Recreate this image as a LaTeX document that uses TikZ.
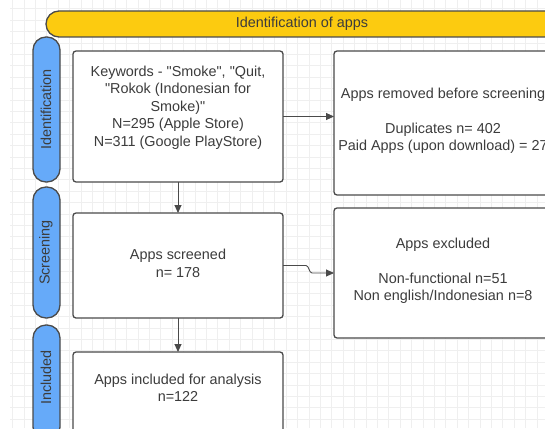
\documentclass[tikz,border=0pt]{standalone}
\usepackage{fontspec}
\setmainfont{Liberation Sans}
\usetikzlibrary{arrows.meta}
\definecolor{gridc}{HTML}{EFEFEF}
\definecolor{edgec}{HTML}{4A4A4A}
\definecolor{txtc}{HTML}{3C3C3C}
\definecolor{yellowc}{HTML}{FCCB10}
\definecolor{bluec}{HTML}{66AAF9}
\newcommand{\dq}{\textquotedbl}
\tikzset{
  box/.style={draw=edgec, line width=1.3pt, fill=white, rounded corners=3pt, inner sep=0pt, outer sep=0pt},
  pill/.style={draw=edgec, line width=1.3pt, fill=bluec, rounded corners=13pt, inner sep=0pt, outer sep=0pt, minimum width=27pt},
  hdr/.style={draw=edgec, line width=1.3pt, fill=yellowc, rounded corners=13pt, inner sep=0pt, outer sep=0pt},
  txt/.style={text=txtc, font=\fontsize{14.4pt}{17.4pt}\selectfont, align=center, inner sep=0pt},
  conn/.style={draw=edgec, line width=0.9pt, -{Triangle[length=8pt,width=7pt]}},
}
\begin{document}
\begin{tikzpicture}[x=1pt,y=-1pt]
\useasboundingbox (0,0) rectangle (545,428);
\clip (0,0) rectangle (545,428);
\fill[white] (0,0) rectangle (545,428);
% grid
\foreach \i in {0,...,47} {\draw[gridc, line width=0.6pt] (12.4+\i*11.4,0) -- (12.4+\i*11.4,428);}
\foreach \j in {0,...,37} {\draw[gridc, line width=0.6pt] (10,8.7+\j*11.4) -- (545,8.7+\j*11.4);}
% header
\node[hdr, minimum width=514pt, minimum height=26pt] (hd) at (303,24) {};
\node[txt] (hdt) at (302,23.5) {Identification of apps};
% pills
\node[pill, minimum height=145pt] (p1) at (46.5,109.5) {};
\node[pill, minimum height=131pt] (p2) at (46.5,252.5) {};
\node[pill, minimum height=115pt] (p3) at (46.5,382.5) {};
\node[txt, rotate=90] (p1t) at (46,109.5) {Identification};
\node[txt, rotate=90] (p2t) at (46,252.5) {Screening};
\node[txt, rotate=90] (p3t) at (46,377.5) {Included};
% boxes
\node[box, minimum width=210pt, minimum height=131pt] (b1) at (178,116.5) {};
\node[box, minimum width=218pt, minimum height=144pt] (b2) at (443,123) {};
\node[box, minimum width=210pt, minimum height=105pt] (scr) at (178,265.5) {};
\node[box, minimum width=218pt, minimum height=130pt] (exc) at (443,273) {};
\node[box, minimum width=210pt, minimum height=108pt] (inc) at (178,406) {};
% texts
\node[txt] (b1t) at (178,107.5) {Keywords - \dq Smoke\dq, \dq Quit,\\\dq Rokok (Indonesian for\\Smoke)\dq\\N=295 (Apple Store)\\N=311 (Google PlayStore)};
\node[txt] (b2t) at (443,121) {Apps removed before screening\\[17.4pt]Duplicates n= 402\\Paid Apps (upon download) = 27};
\node[txt] (scrt) at (178,263.5) {Apps screened\\n= 178};
\node[txt] (exct) at (443,271) {Apps excluded\\[17.4pt]Non-functional n=51\\Non english/Indonesian n=8};
\node[txt] (inct) at (178,388) {Apps included for analysis\\n=122};
% connectors
\draw[conn] (b1.east) -- (b1.east -| b2.west);
\draw[conn] (b1.south) -- (scr.north);
\draw[conn] (scr.south) -- (inc.north);
\coordinate (j1) at (306,265.5);
\coordinate (j2) at (312,273);
\draw[conn] (scr.east) -- (j1) .. controls (309,265.5) and (309,273) .. (j2) -- (exc.west);
\end{tikzpicture}
\end{document}
